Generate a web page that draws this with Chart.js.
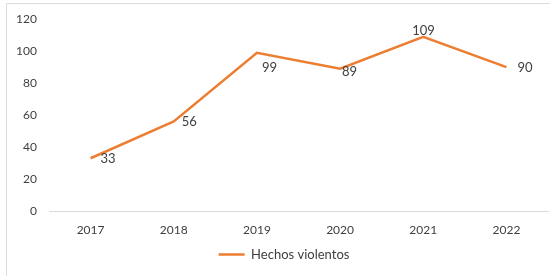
<!DOCTYPE html>
<html>
<head>
<meta charset="utf-8">
<script src="https://cdn.jsdelivr.net/npm/chart.js@4/dist/chart.umd.min.js"></script>
<style>
  html, body { margin: 0; padding: 0; background: #fff; }
  #wrap { position: relative; width: 550px; height: 276px; }
  #frame { position: absolute; left: 6px; top: 3px; right: 0; bottom: 0;
           border-top: 1.5px solid #dcdcdc; border-left: 1.5px solid #dcdcdc; pointer-events: none; }
  canvas { position: absolute; left: 0; top: 0; }
</style>
</head>
<body>
<div id="wrap">
  <canvas id="c" width="550" height="276"></canvas>
  <div id="frame"></div>
</div>
<script>
const categories = ["2017", "2018", "2019", "2020", "2021", "2022"];
const hechosViolentos = [33, 56, 99, 89, 109, 90];
const seriesName = "Hechos violentos";
const yTicks = [0, 20, 40, 60, 80, 100, 120];

// label placement offsets (dx, dy) relative to each point, left-aligned text
const labelOffsets = [[10, 1], [8, 0], [5, 15], [2, 3], [-11, -6], [11, 1]];

const FONT = "Lato, 'Open Sans', sans-serif";
const TEXT = "#404040";

const dataLabels = {
  id: 'dataLabels',
  afterDatasetsDraw(chart) {
    const ctx = chart.ctx;
    const meta = chart.getDatasetMeta(0);
    ctx.save();
    ctx.font = "13px " + FONT;
    ctx.fillStyle = TEXT;
    ctx.textAlign = 'left';
    ctx.textBaseline = 'middle';
    meta.data.forEach((pt, i) => {
      const off = labelOffsets[i] || [8, 0];
      ctx.fillText(String(chart.data.datasets[0].data[i]), pt.x + off[0], pt.y + off[1]);
    });
    ctx.restore();
  }
};

const legendShift = {
  id: 'legendShift',
  afterLayout(chart) {
    if (chart.legend) {
      chart.legend.left += 10;
      chart.legend.right += 10;
      chart.legend.top += 1;
      chart.legend.bottom += 1;
    }
  }
};

new Chart(document.getElementById('c'), {
  type: 'line',
  data: {
    labels: categories,
    datasets: [{
      label: seriesName,
      data: hechosViolentos,
      borderColor: '#ED7D31',
      backgroundColor: '#ED7D31',
      borderWidth: 2.5,
      pointRadius: 0,
      tension: 0,
      fill: false
    }]
  },
  options: {
    responsive: false,
    animation: false,
    layout: { padding: { top: 18, right: 2, left: 0, bottom: 6 } },
    plugins: {
      legend: {
        position: 'bottom',
        labels: {
          usePointStyle: true,
          pointStyle: 'line',
          pointStyleWidth: 26,
          boxHeight: 8,
          color: TEXT,
          font: { family: FONT, size: 13 },
          padding: 6
        }
      },
      tooltip: { enabled: false }
    },
    scales: {
      x: {
        offset: true,
        grid: { display: false, drawTicks: false },
        border: { display: true, color: '#d9d9d9', width: 1 },
        ticks: { color: TEXT, font: { family: FONT, size: 12 }, padding: 12 },
        afterFit(scale) { scale.height = 30; }
      },
      y: {
        min: 0, max: 120,
        afterBuildTicks(scale) { scale.ticks = yTicks.map(v => ({ value: v })); },
        grid: { display: false, drawTicks: false },
        border: { display: false },
        ticks: { color: TEXT, font: { family: FONT, size: 12 }, padding: 12 },
        afterFit(scale) { scale.width = 49; }
      }
    }
  },
  plugins: [dataLabels, legendShift]
});
</script>
</body>
</html>
